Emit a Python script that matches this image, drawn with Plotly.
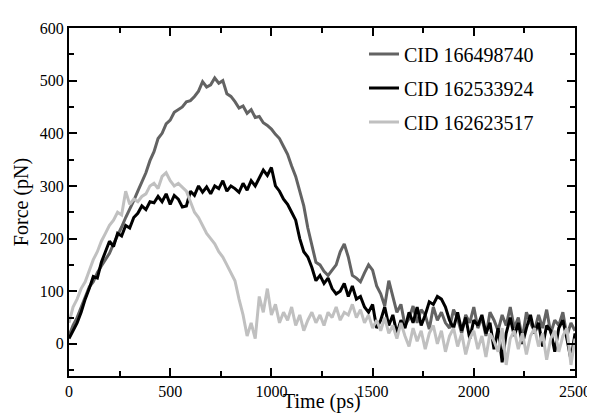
import plotly.graph_objects as go

time_ps = list(range(0, 2501, 20))

cid_166498740 = [15, 35, 50, 70, 88, 108, 118, 135, 148, 160,
                 172, 190, 205, 222, 240, 255, 272, 290, 308, 325,
                 348, 365, 390, 400, 418, 425, 440, 445, 450, 460,
                 462, 470, 480, 498, 488, 492, 505, 495, 500, 475,
                 470, 460, 448, 452, 438, 445, 430, 432, 420, 415,
                 408, 398, 390, 375, 360, 338, 318, 290, 262, 220,
                 185, 155, 150, 138, 130, 140, 150, 175, 190, 165,
                 130, 125, 118, 135, 150, 140, 110, 95, 72, 120,
                 88, 60, 75, 35, 48, 72, 40, 65, 55, 28,
                 70, 45, 60, 40, 30, 65, 48, 20, 55, 40,
                 70, 30, 50, 15, 60, 45, 25, 55, 35, 70,
                 30, 50, 10, 60, 40, 25, 55, 30, 65, 20,
                 45, 35, 60, 15, 40, 25]

cid_162533924 = [10, 25, 40, 60, 85, 105, 128, 125, 155, 175,
                 195, 185, 210, 205, 225, 220, 240, 248, 262, 255,
                 270, 268, 280, 270, 285, 265, 282, 275, 260, 262,
                 290, 282, 300, 288, 298, 285, 300, 295, 310, 290,
                 300, 295, 288, 305, 292, 310, 300, 315, 330, 320,
                 335, 300, 290, 275, 265, 250, 235, 200, 175, 165,
                 145, 120, 130, 115, 125, 105, 95, 100, 115, 90,
                 110, 85, 90, 70, 60, 75, 30, 45, 70, 35,
                 55, 20, 45, 30, 60, 40, 70, 35, 55, 80,
                 75, 90, 85, 70, 45, 30, 60, 25, 50, 10,
                 45, 35, 55, 20, 40, -10, 30, -35, 20, 50,
                 15, 40, 0, 30, 55, 20, 40, -5, 35, 25,
                 -15, 30, 45, 10, -30, 20]

cid_162623517 = [40, 70, 85, 105, 118, 140, 160, 175, 195, 210,
                 225, 235, 250, 245, 290, 265, 275, 270, 280, 285,
                 300, 305, 295, 318, 325, 310, 300, 305, 298, 290,
                 270, 250, 240, 225, 210, 200, 190, 175, 165, 150,
                 135, 120, 85, 55, 15, 40, 10, 90, 60, 105,
                 55, 75, 40, 60, 45, 70, 35, 55, 25, 45,
                 60, 40, 55, 35, 60, 50, 70, 45, 60, 55,
                 75, 50, 65, 40, 55, 30, 45, 25, 50, 20,
                 35, 10, 40, 15, -5, 30, 5, 25, -10, 20,
                 35, 0, 25, -15, 15, 30, -5, 20, -20, 10,
                 25, -10, 15, -25, 20, 5, -15, 30, -40, 10,
                 25, -10, 20, -20, 15, 30, -5, 20, -30, 10,
                 25, -15, 15, 30, -40, 10]

series_names = ["CID 166498740", "CID 162533924", "CID 162623517"]
series_values = [cid_166498740, cid_162533924, cid_162623517]
series_colors = ["#636363", "#000000", "#c0c0c0"]

x_ticks = [0, 500, 1000, 1500, 2000, 2500]
y_ticks = [0, 100, 200, 300, 400, 500, 600]

fig = go.Figure()
for i, (name, vals, col) in enumerate(zip(series_names, series_values, series_colors)):
    fig.add_trace(go.Scatter(
        x=time_ps, y=vals, mode="lines", name=name,
        line=dict(color=col, width=3),
        legendgroup=f"g{i}",
    ))

font_family = "Liberation Serif"

axis_common = dict(
    showgrid=False, zeroline=False,
    showline=True, linecolor="black", linewidth=2,
    mirror="allticks", ticks="inside", ticklen=8, tickwidth=2, tickcolor="black",
    tickfont=dict(family=font_family, size=16, color="black"),
)

fig.update_xaxes(
    range=[0, 2500], tickvals=x_ticks, ticktext=[str(v) for v in x_ticks],
    minor=dict(dtick=250, tick0=0, ticks="inside", ticklen=5, tickwidth=2, tickcolor="black"),
    **axis_common,
)
fig.update_yaxes(
    range=[-61, 600], tickvals=y_ticks, ticktext=[str(v) for v in y_ticks],
    minor=dict(dtick=50, tick0=0, ticks="inside", ticklen=5, tickwidth=2, tickcolor="black"),
    title=dict(text="Force (pN)", font=dict(family=font_family, size=20, color="black"), standoff=6),
    **axis_common,
)

fig.add_annotation(
    text="Time (ps)", xref="paper", yref="paper", x=0.5, y=-0.073,
    xanchor="center", yanchor="middle", showarrow=False,
    font=dict(family=font_family, size=20, color="black"),
)

# page body has an 8px default offset; margins compensate for it
fig.update_layout(
    width=595, height=415,
    margin=dict(l=60, r=25, t=12, b=47),
    paper_bgcolor="white", plot_bgcolor="white",
    showlegend=True,
    font=dict(family=font_family),
    legend=dict(
        x=0.583, y=0.981, xanchor="left", yanchor="top",
        bgcolor="rgba(0,0,0,0)", borderwidth=0,
        font=dict(family=font_family, size=20, color="black"),
        itemwidth=30, tracegroupgap=5,
    ),
)

fig.write_html("out.html")
